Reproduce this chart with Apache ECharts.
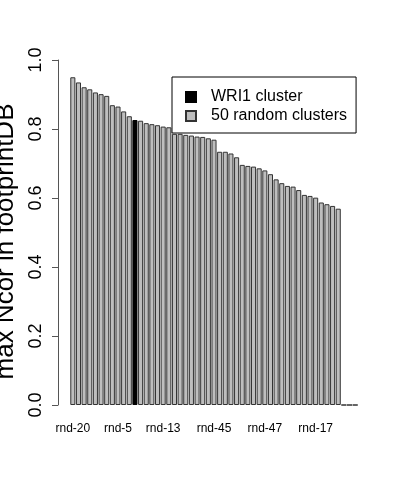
<!DOCTYPE html>
<html>
<head>
<meta charset="utf-8">
<script src="https://cdn.jsdelivr.net/npm/echarts@6/dist/echarts.min.js"></script>
<style>
  html, body { margin: 0; padding: 0; background: #fff; }
  #chart-box { width: 400px; height: 480px; }
</style>
</head>
<body>
<div id="chart-box"></div>
<script>
  // sorted max Ncor values, one per cluster (last three are zero)
  var ncorValues = [
    0.950, 0.935, 0.921, 0.915, 0.906, 0.901, 0.896, 0.869, 0.865, 0.851,
    0.837, 0.826, 0.824, 0.817, 0.814, 0.811, 0.807, 0.805, 0.786, 0.786,
    0.783, 0.781, 0.778, 0.777, 0.773, 0.769, 0.734, 0.734, 0.729, 0.718,
    0.696, 0.693, 0.691, 0.686, 0.680, 0.669, 0.654, 0.643, 0.635, 0.633,
    0.623, 0.609, 0.606, 0.601, 0.587, 0.582, 0.577, 0.569, 0, 0,
    0
  ]
  var wri1Index = 11
  // only these tick labels are printed under the bars
  var tickPositions = [0, 8, 16, 25, 34, 43]
  var tickLabels = ['rnd-20', 'rnd-5', 'rnd-13', 'rnd-45', 'rnd-47', 'rnd-17']

  var categories = ncorValues.map(function (v, i) {
    var k = tickPositions.indexOf(i)
    return k >= 0 ? tickLabels[k] : ''
  })
  var randomData = ncorValues.map(function (v, i) { return i === wri1Index ? null : v })
  var wri1Data = ncorValues.map(function (v, i) { return i === wri1Index ? v : null })

  var font = 'Liberation Sans, Arial, Helvetica, sans-serif'
  var chart = echarts.init(document.getElementById('chart-box'))

  chart.setOption({
    animation: false,
    textStyle: { fontFamily: font },
    grid: { left: 70, right: 42, top: 60, bottom: 75, outerBoundsMode: 'none', containLabel: false },
    legend: {
      orient: 'vertical',
      left: 172,
      top: 77,
      padding: [12, 9, 9, 13],
      itemGap: 3,
      itemWidth: 10,
      itemHeight: 10,
      icon: 'rect',
      borderColor: '#000',
      borderWidth: 1,
      textStyle: { fontSize: 16, color: '#000', fontFamily: font, padding: [0, 0, 0, 10] },
      data: ['WRI1 cluster', '50 random clusters']
    },
    xAxis: {
      type: 'category',
      data: categories,
      axisLine: { show: false },
      axisTick: { show: false },
      axisLabel: { interval: 0, margin: 18, fontSize: 12, color: '#000', fontFamily: font }
    },
    yAxis: {
      type: 'value',
      min: 0,
      max: 1,
      interval: 0.2,
      offset: 12,
      name: 'max Ncor in footprintDB',
      nameLocation: 'middle',
      nameRotate: 90,
      nameGap: 36,
      nameTextStyle: { fontSize: 26, color: '#000', fontFamily: font, padding: [0, 18, 0, 0] },
      axisLine: { show: true, lineStyle: { color: '#555', width: 1 } },
      axisTick: { show: true, length: 6, lineStyle: { color: '#555' } },
      splitLine: { show: false },
      axisLabel: {
        rotate: 90,
        margin: 13,
        fontSize: 18,
        color: '#000',
        fontFamily: font,
        formatter: function (v) { return v.toFixed(1) }
      }
    },
    series: [{
      name: 'WRI1 cluster',
      type: 'bar',
      data: wri1Data,
      barGap: '-100%',
      barCategoryGap: '10%',
      itemStyle: { color: '#000', borderColor: '#000', borderWidth: 1 }
    }, {
      name: '50 random clusters',
      type: 'bar',
      data: randomData,
      barGap: '-100%',
      barCategoryGap: '10%',
      itemStyle: { color: '#bebebe', borderColor: '#333', borderWidth: 1 }
    }]
  })
</script>
</body>
</html>
